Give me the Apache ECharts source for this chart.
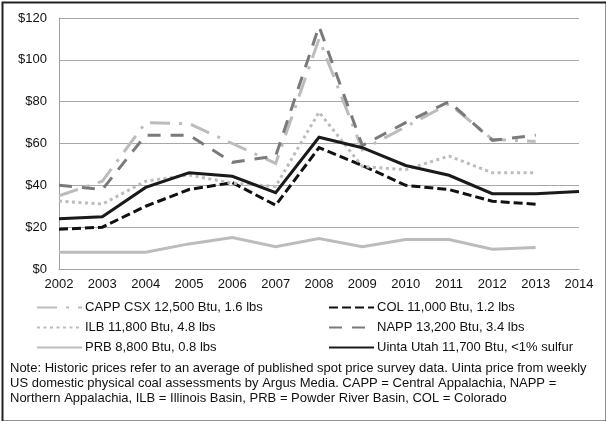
<!DOCTYPE html>
<html><head><meta charset="utf-8">
<script src="https://cdn.jsdelivr.net/npm/echarts@6/dist/echarts.min.js"></script>
<style>html,body{margin:0;padding:0;background:#fff;}#c{width:606px;height:421px;}</style>
</head><body><div id="c"></div>
<script>
var years = ['2002','2003','2004','2005','2006','2007','2008','2009','2010','2011','2012','2013','2014'];
var yTicks = [0, 20, 40, 60, 80, 100, 120];
var capp  = [35, 42, 70, 69.5, 60, 50.5, 110, 57, 68, 79, 62, 61, null];
var col   = [19, 20, 30, 38, 41.3, 30.5, 58, 49.5, 40, 38, 32.4, 31, null];
var ilb   = [32.5, 31, 42, 45, 41, 39.5, 75, 49, 47.5, 54, 46, 46, null];
var napp  = [40, 38, 64, 64, 51, 54, 116, 59, 70, 80, 61.5, 64, null];
var prb   = [8, 8, 8, 12, 15, 10.6, 14.6, 10.6, 14.1, 14.1, 9.5, 10.3, null];
var uinta = [24, 25, 39, 46, 44.3, 36.5, 63, 58, 49.5, 44.8, 36, 36, 37];
var names = ['CAPP CSX 12,500 Btu, 1.6 lbs','COL 11,000 Btu, 1.2 lbs','ILB 11,800 Btu, 4.8 lbs','NAPP 13,200 Btu, 3.4 lbs','PRB 8,800 Btu, 0.8 lbs','Uinta Utah 11,700 Btu, <1% sulfur'];
var note = 'Note: Historic prices refer to an average of published spot price survey data. Uinta price from weekly\nUS domestic physical coal assessments by Argus Media. CAPP = Central Appalachia, NAPP =\nNorthern Appalachia, ILB = Illinois Basin, PRB = Powder River Basin, COL = Colorado';

var FONT = 'Liberation Sans, Arial, sans-serif';
var chart = echarts.init(document.getElementById('c'));
function ser(name, data, color, type, width, cap) {
  return {name: name, type: 'line', data: data, symbol: 'none', connectNulls: false,
    lineStyle: {color: color, width: width, type: type, cap: cap || 'butt', join: 'miter'},
    itemStyle: {color: color}, animation: false};
}
var legendCommon = {orient: 'vertical', top: 301, padding: 0, itemWidth: 45, itemHeight: 14, itemGap: 7,
  itemStyle: {color: 'rgba(0,0,0,0)', opacity: 0, borderWidth: 0},
  textStyle: {fontSize: 13, color: '#111', fontFamily: FONT, padding: [0,0,0,-2]}};
chart.setOption({
  animation: false,
  textStyle: {fontFamily: FONT},
  grid: {left: 59, right: 27, top: 18, bottom: 152},
  xAxis: {type: 'category', data: years, boundaryGap: false,
    axisLine: {lineStyle: {color: '#a0a0a0', width: 1}}, axisTick: {show: false},
    axisLabel: {color: '#111', fontSize: 13, margin: 9, fontFamily: FONT}},
  yAxis: {type: 'value', min: yTicks[0], max: yTicks[yTicks.length-1], interval: 20,
    axisLine: {show: true, lineStyle: {color: '#a0a0a0', width: 1}}, axisTick: {show: false},
    splitLine: {lineStyle: {color: '#a8a8a8', width: 1}},
    axisLabel: {color: '#111', fontSize: 13, margin: 12, fontFamily: FONT, formatter: function(v){return '$' + v;}}},
  legend: [
    Object.assign({data: [names[0], names[2], names[4]], left: 36}, legendCommon),
    Object.assign({data: [names[1], names[3], names[5]], left: 328}, legendCommon)
  ],
  graphic: [
    {type: 'rect', left: 0, top: 0, shape: {x: 1, y: 1, width: 604, height: 419}, style: {fill: 'none', stroke: '#222', lineWidth: 2}, z: 100},
    {type: 'text', left: 10, top: 361, style: {text: note, font: '13px Liberation Sans, Arial, sans-serif', fill: '#111', lineHeight: 15}}
  ],
  series: [
    ser(names[0], capp, '#bcbcbc', [20, 9, 3, 9], 3),
    ser(names[1], col, '#111111', [9, 4], 3),
    ser(names[2], ilb, '#bcbcbc', [3, 3.5], 3),
    ser(names[3], napp, '#7a7a7a', [13, 10], 3),
    ser(names[4], prb, '#bcbcbc', 'solid', 3),
    ser(names[5], uinta, '#1a1a1a', 'solid', 3)
  ]
});
</script></body></html>
